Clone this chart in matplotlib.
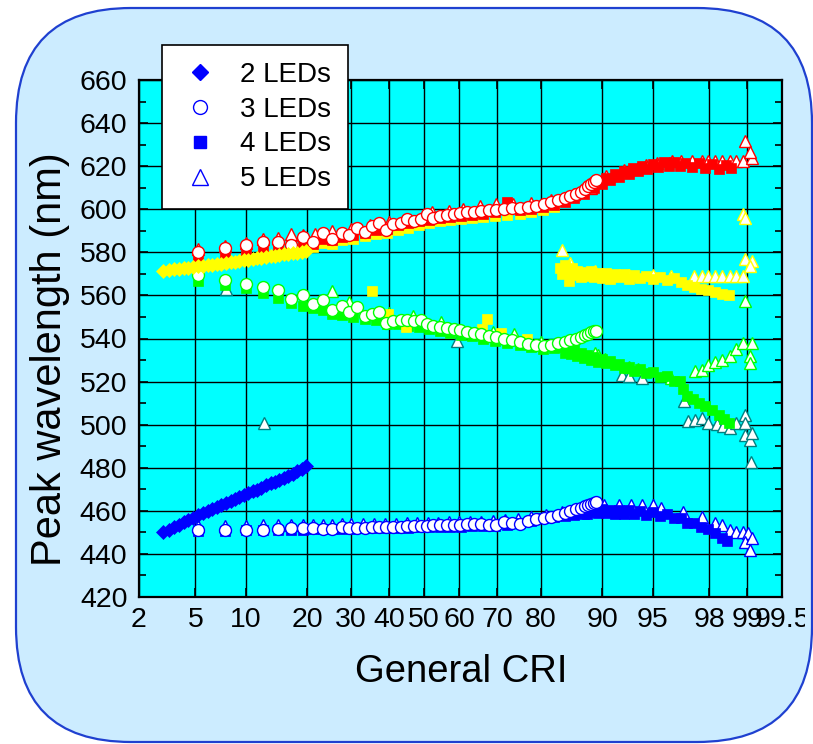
import numpy as np
import matplotlib
matplotlib.use("Agg")
import matplotlib.pyplot as plt
from matplotlib.patches import FancyBboxPatch
from matplotlib.lines import Line2D
from matplotlib.ticker import MultipleLocator, NullLocator, FixedLocator
from matplotlib.transforms import IdentityTransform, Bbox
from statistics import NormalDist

plt.rcParams['font.family'] = ['Liberation Sans', 'DejaVu Sans']

# ---------------- data: general CRI (x) and peak wavelength in nm (y) ----------------
# 2 LEDs (diamonds)
led2_cri = [3.0, 3.3, 3.6, 3.9, 4.2, 4.5, 4.8, 5.2, 5.6, 6.0, 6.4, 6.8, 7.2, 7.7, 8.2, 8.7,
            9.2, 9.7, 10.3, 10.9, 11.5, 12.1, 12.8, 13.5, 14.2, 14.9, 15.6, 16.4, 17.2, 18.0, 18.9, 19.8]
led2_blue = [450.0, 451.2, 452.4, 453.6, 454.7, 455.7, 456.7, 458.0, 459.1, 460.1, 461.0, 461.9, 462.7, 463.7, 464.6, 465.5,
             466.4, 467.2, 468.1, 469.0, 469.9, 470.8, 471.8, 472.7, 473.6, 474.5, 475.3, 476.3, 477.3, 478.3, 479.4, 480.6]
led2_yellow = [571.5, 571.8, 572.1, 572.4, 572.7, 572.9, 573.2, 573.5, 573.8, 574.0, 574.3, 574.5, 574.8, 575.1, 575.4, 575.7,
               576.0, 576.3, 576.6, 576.9, 577.2, 577.5, 577.8, 578.1, 578.4, 578.7, 579.0, 579.3, 579.6, 579.9, 580.2, 580.5]

# 3 LEDs (circles)
led3_cri = [5.2, 7.6, 10.0, 12.4, 14.7, 16.9, 19.1, 21.2, 23.3, 25.5, 27.7, 29.5, 31.6, 33.5, 35.4, 37.4, 39.3,
            41.3, 43.3, 45.2, 47.1, 49.0, 50.8, 52.7, 54.6, 56.5, 58.4, 60.3, 62.2, 64.1, 66.0, 67.9, 69.8,
            71.7, 73.6, 75.5, 77.3, 79.0, 80.6, 82.0, 83.3, 84.4, 85.4, 86.3, 87.0, 87.6, 88.1, 88.5, 88.9, 89.2]
led3_red = [580.1, 582.2, 583.3, 584.8, 585.0, 583.3, 587.3, 585.0, 589.2, 586.0, 589.2, 587.9, 591.5, 589.5, 592.0, 593.5, 590.5,
            593.0, 593.8, 595.3, 594.5, 595.3, 597.7, 596.0, 597.0, 597.4, 597.8, 598.2, 598.5, 598.8, 599.2, 599.5, 599.8,
            600.2, 600.5, 600.8, 601.2, 601.5, 602.3, 603.3, 604.4, 605.4, 606.2, 607.1, 608.2, 609.4, 610.6, 611.8, 612.8, 613.6]
led3_green = [569.3, 567.1, 565.1, 564.0, 562.3, 558.4, 560.0, 556.1, 558.1, 553.2, 555.0, 552.3, 554.7, 550.4, 551.5, 552.3, 547.3,
              548.3, 548.5, 548.8, 548.0, 548.6, 546.5, 546.0, 545.5, 545.0, 544.3, 543.8, 543.2, 542.6, 541.9, 541.3, 540.6,
              539.8, 539.1, 538.3, 537.6, 537.0, 536.6, 537.2, 537.8, 538.6, 539.3, 540.0, 540.8, 541.5, 542.2, 542.8, 543.3, 543.6]
led3_blue = [451.2, 451.2, 451.3, 451.3, 451.4, 452.0, 452.1, 452.2, 451.6, 451.7, 452.3, 451.8, 452.0, 452.1, 452.3, 452.4, 452.5,
             452.5, 452.6, 452.8, 452.9, 453.0, 453.1, 453.2, 453.3, 453.4, 453.5, 453.6, 453.7, 453.8, 453.9, 453.3, 453.6,
             454.6, 454.4, 454.0, 455.3, 456.2, 456.6, 457.3, 458.0, 459.0, 459.8, 460.7, 461.5, 462.2, 462.8, 463.3, 463.7, 464.0]

# 4 LEDs (squares)
led4_red_cri = [5.2, 7.6, 10.0, 12.4, 14.7, 16.9, 19.1, 21.2, 23.3, 25.5, 27.7, 30.5, 33.5, 36.5, 39.5, 42.5, 45.5,
                48.5, 51.5, 54.5, 57.5, 60.5, 63.5, 66.5, 69.5, 72.5, 75.5, 78.0, 80.5, 82.5, 84.5, 86.0, 87.5,
                89.0, 89.5, 90.0, 90.5, 91.0, 91.5, 92.0, 92.5, 93.0, 93.4, 93.8, 94.2, 94.6, 95.0, 95.4, 95.8,
                96.1, 96.4, 96.7, 97.0, 97.3, 97.6, 97.85, 98.1, 98.3, 98.5, 98.65]
led4_red = [577.5, 579.5, 580.5, 582.0, 582.5, 583.0, 584.5, 584.0, 586.0, 585.5, 587.0, 588.0, 589.0, 590.5, 591.0, 592.5, 593.5,
            594.5, 595.0, 596.0, 596.5, 597.0, 597.5, 598.0, 598.5, 603.5, 599.5, 600.0, 601.0, 602.0, 603.5, 605.0, 607.0,
            610.0, 613.0, 611.5, 614.5, 613.7, 616.3, 615.0, 617.7, 616.5, 619.0, 617.7, 620.1, 618.7, 621.0, 619.5, 621.8,
            620.1, 622.0, 620.3, 621.7, 619.7, 621.3, 619.3, 620.9, 618.9, 620.5, 619.0]
led4_yellow_cri = [5.2, 7.6, 10.0, 12.4, 14.7, 16.9, 19.1, 21.2, 23.3, 25.5, 27.7, 30.5, 33.5, 36.5, 39.5, 42.5, 45.5,
                   48.5, 51.5, 54.5, 57.5, 60.5, 63.5, 66.5, 69.5, 72.5, 75.5, 78.0, 80.5, 82.5,
                   35.5, 39.7, 44.8, 66.2, 67.5, 70.9, 77.0,
                   83.6, 84.0, 84.5, 85.0, 85.2, 85.6, 86.0, 86.5, 87.0, 87.5, 88.0, 88.5, 89.0, 89.5, 90.0, 90.5,
                   91.0, 91.5, 92.0, 92.5, 93.0, 93.5, 94.0, 94.5, 95.0, 95.5, 96.0, 96.4, 96.8, 97.1, 97.4, 97.7,
                   97.95, 98.2, 98.4, 98.6]
led4_yellow = [575.5, 577.0, 578.0, 579.5, 580.0, 581.0, 582.0, 582.5, 584.5, 584.0, 585.5, 586.0, 587.5, 588.5, 589.0, 590.5, 591.5,
               592.5, 593.5, 594.5, 595.0, 595.5, 596.0, 596.5, 597.0, 597.5, 598.0, 598.5, 599.5, 601.0,
               562.0, 551.2, 545.5, 544.2, 549.1, 542.6, 540.0,
               572.5, 570.0, 574.0, 571.0, 566.5, 572.5, 569.5, 571.5, 568.5, 571.0, 569.0, 571.5, 568.5, 570.5, 568.0, 570.5,
               567.5, 569.8, 568.5, 570.0, 567.5, 569.5, 568.0, 569.0, 567.5, 568.5, 567.0, 568.0, 566.0, 565.0, 564.0, 563.0,
               562.3, 561.5, 560.8, 560.0]
led4_green_cri = [5.2, 7.6, 10.0, 12.4, 14.7, 16.9, 19.1, 21.2, 23.3, 25.5, 27.7, 30.5, 33.5, 36.5, 39.5, 42.5, 45.5,
                  48.5, 51.5, 54.5, 57.5, 60.5, 63.5, 66.5, 69.5, 72.5, 75.5, 78.0, 80.5, 82.5,
                  84.0, 84.5, 85.0, 85.5, 86.0, 86.5, 87.0, 87.5, 88.0, 88.5, 89.0, 89.5, 90.0, 90.5, 91.0, 91.5,
                  92.0, 92.5, 93.0, 93.5, 94.0, 94.5, 95.0, 95.5, 96.0, 96.4, 96.7, 96.9, 97.1, 97.35, 97.6, 97.85,
                  98.1, 98.3, 98.45, 98.6]
led4_green = [566.7, 565.0, 563.5, 561.0, 559.0, 556.7, 555.3, 554.0, 553.0, 551.5, 551.0, 550.0, 549.0, 548.5, 546.5, 546.5, 546.0,
              545.5, 544.2, 543.5, 542.5, 541.8, 541.0, 540.0, 539.0, 538.0, 537.0, 536.0, 535.0, 535.5,
              536.0, 533.5, 535.5, 532.8, 534.5, 532.0, 533.5, 530.8, 532.5, 530.0, 531.5, 529.3, 530.5, 528.5, 529.5, 527.5,
              528.3, 526.3, 527.0, 525.0, 525.8, 523.8, 524.3, 522.3, 522.8, 520.5, 520.5, 516.5, 513.5, 512.0, 510.0, 508.5,
              507.0, 504.5, 502.5, 501.0]
led4_blue_cri = [5.2, 7.6, 10.0, 12.4, 14.7, 16.9, 19.1, 21.2, 23.3, 25.5, 27.7, 30.5, 33.5, 36.5, 39.5, 42.5, 45.5,
                 48.5, 51.5, 54.5, 57.5, 60.5, 63.5, 66.5, 69.5, 72.5, 75.5, 78.0, 80.5, 82.5, 84.5, 86.0, 87.5,
                 88.0, 88.5, 89.0, 89.5, 90.0, 90.5, 91.0, 91.5, 92.0, 92.5, 93.0, 93.5, 94.0, 94.5, 95.0, 95.5,
                 96.0, 96.4, 96.8, 97.1, 97.4, 97.7, 97.95, 98.2, 98.4, 98.55]
led4_blue = [450.8, 450.8, 450.9, 450.9, 451.0, 451.2, 451.3, 451.4, 451.4, 451.5, 451.6, 451.7, 451.8, 451.9, 452.0, 452.1, 452.2,
             452.3, 452.4, 452.5, 452.6, 452.7, 452.8, 452.9, 453.0, 453.5, 454.5, 455.5, 456.5, 457.3, 457.8, 458.0, 458.3,
             458.5, 459.5, 461.0, 459.0, 460.8, 458.8, 460.5, 458.5, 460.5, 458.5, 460.3, 458.3, 460.0, 458.0, 459.5, 457.5,
             458.5, 456.5, 456.5, 454.5, 454.5, 452.5, 451.5, 449.5, 447.5, 446.0]

# 5 LEDs (triangles)
led5_red_cri = [5.2, 7.6, 10.0, 12.4, 14.7, 16.9, 19.1, 21.6, 25.5, 30.0, 35.0, 40.0, 45.0, 50.0, 52.4, 57.0, 61.0,
                65.6, 69.7, 74.0, 78.0, 82.0, 86.0, 88.5, 90.5, 92.5, 94.5, 95.3, 96.26, 96.8, 97.33, 97.71, 97.96,
                98.19, 98.39, 98.62, 98.77, 98.92, 99.08, 98.95, 99.05]
led5_red = [581.5, 583.0, 584.5, 586.0, 586.5, 588.5, 588.0, 588.5, 590.0, 591.0, 592.5, 594.0, 595.5, 597.0, 598.5, 599.0, 600.0,
            601.5, 602.5, 602.5, 603.0, 604.5, 607.0, 610.0, 615.5, 618.0, 620.5, 621.5, 622.5, 622.5, 622.5, 622.5, 622.5,
            622.5, 622.5, 622.5, 622.5, 622.5, 624.0, 631.8, 626.5]
led5_yellow_cri = [84.0, 85.4, 89.1, 93.0, 95.0, 96.2, 97.39, 97.71, 97.96, 98.19, 98.39, 98.62, 98.77, 98.92,
                   98.92, 98.95, 98.95, 99.08, 99.05]
led5_yellow = [581.0, 575.0, 571.5, 569.5, 569.5, 569.0, 569.0, 569.0, 569.0, 569.0, 569.0, 569.0, 569.0, 569.0,
               597.7, 596.0, 576.9, 576.1, 573.8]
led5_green_cri = [25.5, 29.5, 40.0, 46.7, 55.0, 69.0, 74.1, 80.0, 86.0, 89.1, 89.5, 90.4, 93.0, 93.8, 96.2,
                  97.44, 97.71, 97.96, 98.19, 98.39, 98.62, 98.77, 98.92, 99.08, 99.05, 99.05, 98.95]
led5_green = [562.0, 557.0, 552.0, 550.5, 547.5, 543.0, 542.0, 538.5, 535.5, 533.5, 532.5, 530.5, 527.0, 526.0, 521.5,
              524.8, 525.6, 527.9, 529.0, 530.0, 531.8, 534.9, 538.0, 538.0, 531.8, 528.7, 557.4]
led5_teal_cri = [7.7, 12.5, 59.5, 92.3, 93.0, 94.2, 96.94, 97.14, 97.44, 97.71, 97.96, 98.24, 98.44, 98.62, 98.77,
                 98.95, 98.95, 98.95, 99.05, 99.08, 99.07]
led5_teal = [563.0, 500.8, 538.8, 523.0, 522.5, 521.8, 510.8, 501.5, 502.3, 503.1, 500.8, 500.5, 499.5, 498.5, 500.8,
             504.7, 500.8, 495.3, 493.0, 496.1, 482.5]
led5_blue_cri = [5.2, 7.6, 10.0, 12.4, 14.7, 16.9, 19.1, 21.2, 23.3, 25.5, 27.7, 30.0, 33.0, 36.0, 39.0, 42.0, 45.0,
                 48.0, 51.0, 54.0, 57.0, 60.0, 63.0, 66.0, 69.0, 72.0, 75.0, 78.0, 81.0, 84.0, 86.5, 88.5, 90.2,
                 92.0, 93.2, 94.2, 95.0, 95.6, 96.9, 97.71, 98.19, 98.39, 98.62, 98.77, 98.92, 99.02, 98.95, 99.08, 99.05]
led5_blue = [453.0, 453.0, 453.0, 453.2, 453.2, 453.3, 453.4, 453.5, 453.5, 453.6, 453.7, 453.8, 453.9, 454.0, 454.0, 454.1, 454.2,
             454.3, 454.4, 454.5, 454.6, 454.7, 454.8, 454.9, 455.3, 455.8, 456.3, 457.0, 458.0, 459.5, 460.5, 461.5, 462.5,
             462.8, 462.8, 462.5, 462.5, 461.5, 459.3, 457.3, 454.3, 453.5, 451.2, 450.4, 450.4, 449.6, 445.7, 447.3, 441.9]

x_ticks = [2, 5, 10, 20, 30, 40, 50, 60, 70, 80, 90, 95, 98, 99, 99.5]
x_tick_labels = ['2', '5', '10', '20', '30', '40', '50', '60', '70', '80', '90', '95', '98', '99', '99.5']
legend_labels = ['2 LEDs', '3 LEDs', '4 LEDs', '5 LEDs']

# ---------------- normal-probability axis ----------------
_nd = NormalDist()
_ppf = np.vectorize(_nd.inv_cdf, otypes=[float])
_cdf = np.vectorize(_nd.cdf, otypes=[float])


def prob_forward(v):
    p = np.clip(np.asarray(v, dtype=float) / 100.0, 1e-6, 1 - 1e-6)
    return _ppf(p)


def prob_inverse(z):
    return 100.0 * _cdf(np.asarray(z, dtype=float))


RED, GREEN, BLUE, YELLOW, TEAL = '#FF0000', '#00FF00', '#0000FF', '#FFFF00', '#008080'
W, H = 813, 744

fig = plt.figure(figsize=(W / 100, H / 100), dpi=100)
fig.patch.set_facecolor('white')

# rounded page background
page = FancyBboxPatch((16, 2), 796, 734, boxstyle='round,pad=0,rounding_size=115',
                      transform=IdentityTransform(), facecolor='#CCECFF', edgecolor='#1F40D0',
                      linewidth=1.6, zorder=-5)
fig.add_artist(page)

ax = fig.add_axes([138.6 / W, 1 - 597 / H, (782 - 138.6) / W, (597 - 80) / H])
ax.set_facecolor('#00FFFF')
ax.set_xscale('function', functions=(prob_forward, prob_inverse))
ax.set_xlim(2, 99.5)
ax.set_ylim(420, 660)
ax.xaxis.set_major_locator(FixedLocator(x_ticks))
ax.set_xticklabels(x_tick_labels)
ax.xaxis.set_minor_locator(NullLocator())
ax.yaxis.set_major_locator(MultipleLocator(20))
ax.yaxis.set_minor_locator(MultipleLocator(10))

ax.set_axisbelow(True)
ax.grid(True, which='major', color='black', linewidth=1.0)
for sp in ax.spines.values():
    sp.set_linewidth(1.6)
ax.tick_params(which='both', direction='in', top=True, right=True, width=1.2, colors='black')
ax.tick_params(which='major', length=6.5, labelsize=20.5)
ax.tick_params(which='minor', length=5)
ax.tick_params(axis='x', pad=7)
ax.tick_params(axis='y', pad=8)


def draw(cri, nm, marker, size, face, edge, ew, z):
    ax.plot(cri, nm, linestyle='none', marker=marker, markersize=size,
            markerfacecolor=face, markeredgecolor=edge, markeredgewidth=ew, zorder=z)


# 5 LEDs: open triangles (drawn first, lowest)
draw(led5_blue_cri, led5_blue, '^', 8.8, 'white', BLUE, 1.0, 2)
draw(led5_teal_cri, led5_teal, '^', 8.8, 'white', TEAL, 1.0, 2)
draw(led5_green_cri, led5_green, '^', 8.8, 'white', GREEN, 1.0, 2)
draw(led5_yellow_cri, led5_yellow, '^', 8.8, 'white', YELLOW, 1.0, 2)
draw(led5_red_cri, led5_red, '^', 8.8, 'white', RED, 1.0, 2)
# 4 LEDs: filled squares
draw(led4_blue_cri, led4_blue, 's', 7.0, BLUE, BLUE, 0.5, 3)
draw(led4_green_cri, led4_green, 's', 7.0, GREEN, GREEN, 0.5, 3)
draw(led4_yellow_cri, led4_yellow, 's', 7.0, YELLOW, YELLOW, 0.5, 3)
draw(led4_red_cri, led4_red, 's', 7.0, RED, RED, 0.5, 3)
# 3 LEDs: open circles
draw(led3_cri, led3_blue, 'o', 8.6, 'white', BLUE, 1.0, 4)
draw(led3_cri, led3_green, 'o', 8.6, 'white', GREEN, 1.0, 4)
draw(led3_cri, led3_red, 'o', 8.6, 'white', RED, 1.0, 4)
# 2 LEDs: filled diamonds
draw(led2_cri, led2_blue, 'D', 7.0, BLUE, BLUE, 0.5, 5)
draw(led2_cri, led2_yellow, 'D', 7.0, YELLOW, YELLOW, 0.5, 5)

ax.set_xlabel('General CRI', fontsize=27.5)
ax.xaxis.set_label_coords(0.502, -0.111)
ax.set_ylabel('Peak wavelength (nm)', fontsize=30)
ax.yaxis.set_label_coords(-0.106, 0.461)

# last x tick label is cut at the page edge
last = ax.xaxis.get_major_ticks()[-1].label1
last.set_clip_box(Bbox.from_extents(0, 0, 805, H))
last.set_clip_on(True)

handles = [
    Line2D([], [], linestyle='none', marker='D', markersize=8.6, markerfacecolor=BLUE, markeredgecolor=BLUE),
    Line2D([], [], linestyle='none', marker='o', markersize=10, markerfacecolor='white', markeredgecolor=BLUE, markeredgewidth=1.0),
    Line2D([], [], linestyle='none', marker='s', markersize=8.6, markerfacecolor=BLUE, markeredgecolor=BLUE),
    Line2D([], [], linestyle='none', marker='^', markersize=11.5, markerfacecolor='white', markeredgecolor=BLUE, markeredgewidth=1.0),
]
leg = ax.legend(handles, legend_labels, loc='upper left', bbox_to_anchor=(161.7 / W, 1 - 45 / H),
                bbox_transform=fig.transFigure, borderaxespad=0, fontsize=20, frameon=True, fancybox=False,
                edgecolor='black', framealpha=1, borderpad=0.6, handlelength=1.55, handletextpad=0.68,
                labelspacing=0.32, numpoints=1)
leg.get_frame().set_linewidth(1.2)
leg.set_zorder(20)

fig.savefig('out.png', dpi=100)
